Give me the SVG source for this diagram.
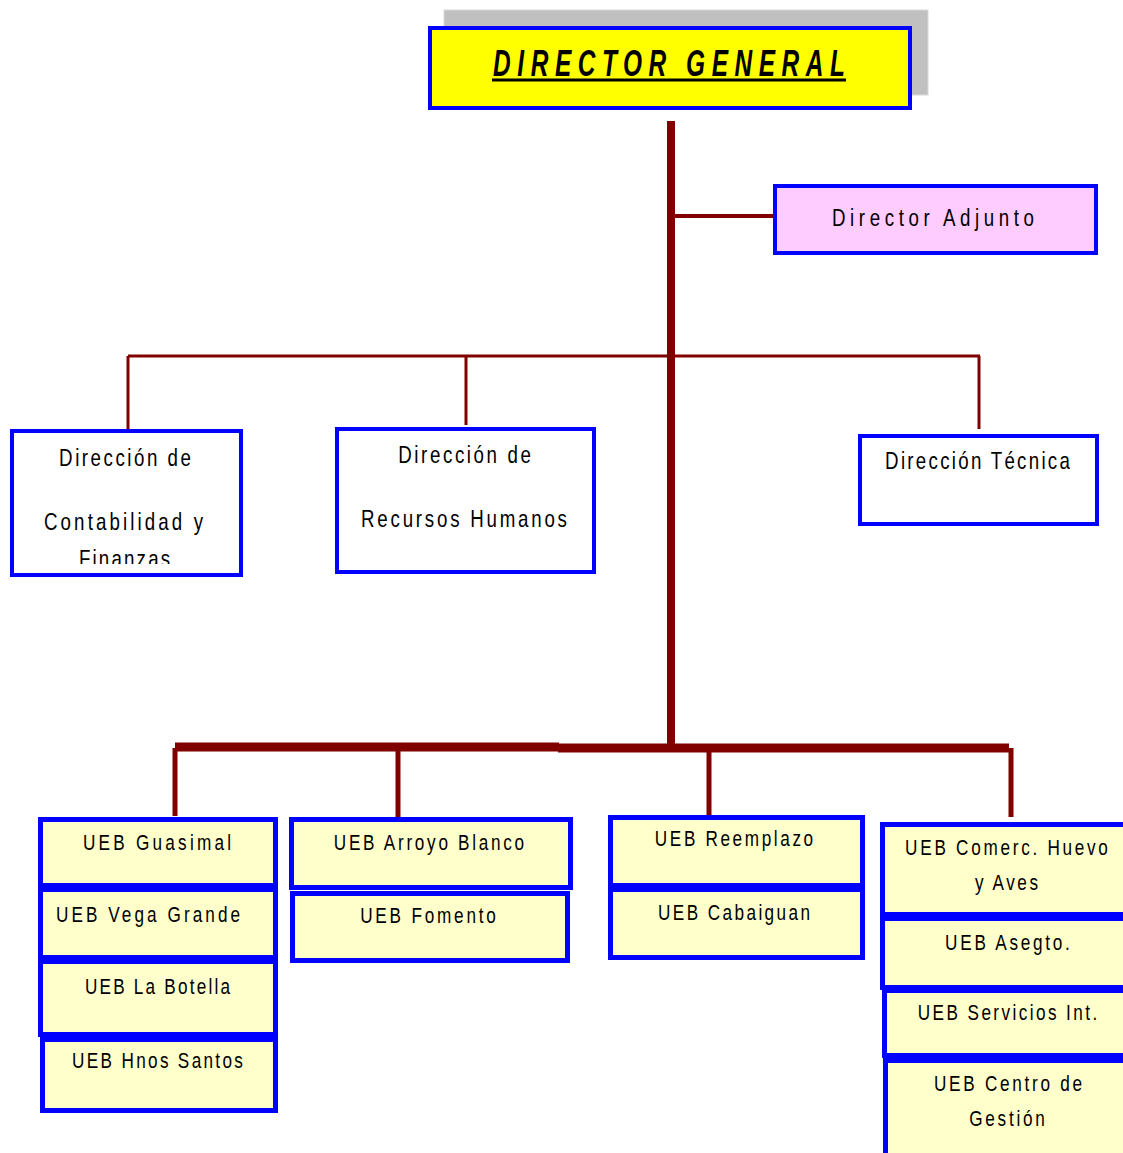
<svg xmlns="http://www.w3.org/2000/svg" width="1123" height="1153" viewBox="0 0 1123 1153">
<defs>
<style>
.box{stroke:#0000FF;stroke-width:4}
.ueb{fill:#FFFFCC;stroke:#0000FF;stroke-width:5}
.lbl{font-family:"Liberation Sans",Arial,sans-serif;font-size:24px;fill:#000;text-anchor:middle}
.u{font-family:"Liberation Sans",Arial,sans-serif;font-size:22px;fill:#000;text-anchor:middle}
.c{stroke:#800000;fill:none}
</style>
<clipPath id="clip1"><rect x="14" y="433" width="225" height="131"/></clipPath>
</defs>
<rect width="1123" height="1153" fill="#FFFFFF"/>
<g id="connectors">
<line class="c" x1="671" y1="121" x2="671" y2="745" stroke-width="8"/>
<line class="c" x1="675" y1="216" x2="773" y2="216" stroke-width="4"/>
<line class="c" x1="128" y1="356" x2="980" y2="356" stroke-width="3"/>
<line class="c" x1="128" y1="356" x2="128" y2="429" stroke-width="3"/>
<line class="c" x1="466" y1="356" x2="466" y2="425" stroke-width="3"/>
<line class="c" x1="979" y1="356" x2="979" y2="429" stroke-width="3"/>
<line class="c" x1="175" y1="747" x2="559" y2="747" stroke-width="9"/>
<line class="c" x1="558" y1="748" x2="1009" y2="748" stroke-width="9"/>
<line class="c" x1="175" y1="748" x2="175" y2="816" stroke-width="5"/>
<line class="c" x1="398" y1="748" x2="398" y2="818" stroke-width="5"/>
<line class="c" x1="709" y1="748" x2="709" y2="816" stroke-width="5"/>
<line class="c" x1="1011" y1="748" x2="1011" y2="817" stroke-width="5"/>
</g>
<g id="director-general">
<rect x="444" y="10" width="484" height="85" fill="#C0C0C0" stroke="#D8D8D8" stroke-width="1"/>
<rect class="box" x="430" y="28" width="480" height="80" fill="#FFFF00"/>
<text transform="translate(669,76) scale(0.66,1)" x="0" y="0" textLength="533" lengthAdjust="spacing" style="font-family:'Liberation Sans',Arial,sans-serif;font-size:37px;font-weight:bold;font-style:italic;text-anchor:middle;fill:#000">DIRECTOR GENERAL</text>
<line x1="492" y1="80" x2="846" y2="80" stroke="#000" stroke-width="3"/>
</g>
<g id="director-adjunto">
<rect class="box" x="775" y="186" width="321" height="67" fill="#FFCCFF"/>
<text class="lbl" transform="translate(933,226) scale(0.78,1)" x="0" y="0" font-size="25" textLength="259" lengthAdjust="spacing">Director Adjunto</text>
</g>
<g id="dir-contabilidad">
<rect class="box" x="12" y="431" width="229" height="144" fill="#FFFFFF"/>
<text class="lbl" transform="translate(125,466) scale(0.78,1)" x="0" y="0" textLength="169" lengthAdjust="spacing">Dirección de</text>
<text class="lbl" transform="translate(123.5,530) scale(0.78,1)" x="0" y="0" textLength="204" lengthAdjust="spacing">Contabilidad  y</text>
<g clip-path="url(#clip1)">
<text class="lbl" transform="translate(124.5,567) scale(0.78,1)" x="0" y="0" textLength="117" lengthAdjust="spacing">Finanzas</text>
</g>
</g>
<g id="dir-rrhh">
<rect class="box" x="337" y="429" width="257" height="143" fill="#FFFFFF"/>
<text class="lbl" transform="translate(464.5,463) scale(0.78,1)" x="0" y="0" textLength="170" lengthAdjust="spacing">Dirección de</text>
<text class="lbl" transform="translate(464,527) scale(0.78,1)" x="0" y="0" textLength="264" lengthAdjust="spacing">Recursos Humanos</text>
</g>
<g id="dir-tecnica">
<rect class="box" x="860" y="436" width="237" height="88" fill="#FFFFFF"/>
<text class="lbl" transform="translate(977.5,469) scale(0.78,1)" x="0" y="0" textLength="237" lengthAdjust="spacing">Dirección Técnica</text>
</g>
<g id="ueb-guasimal">
<rect class="ueb" x="40.5" y="819.5" width="235" height="66"/>
<text class="u" transform="translate(157,850) scale(0.78,1)" x="0" y="0" textLength="190" lengthAdjust="spacing">UEB  Guasimal</text>
</g>
<g id="ueb-vega-grande">
<rect class="ueb" x="40.5" y="889.5" width="235" height="68"/>
<text class="u" transform="translate(148,922) scale(0.78,1)" x="0" y="0" textLength="236" lengthAdjust="spacing">UEB Vega  Grande</text>
</g>
<g id="ueb-la-botella">
<rect class="ueb" x="40.5" y="961.5" width="235" height="73"/>
<text class="u" transform="translate(157.5,994) scale(0.78,1)" x="0" y="0" textLength="186" lengthAdjust="spacing">UEB  La Botella</text>
</g>
<g id="ueb-hnos-santos">
<rect class="ueb" x="42.5" y="1039.5" width="233" height="71"/>
<text class="u" transform="translate(157.5,1068) scale(0.78,1)" x="0" y="0" textLength="219" lengthAdjust="spacing">UEB Hnos Santos</text>
</g>
<g id="ueb-arroyo-blanco">
<rect class="ueb" x="291.5" y="819.5" width="279" height="68"/>
<text class="u" transform="translate(429,850) scale(0.78,1)" x="0" y="0" textLength="244" lengthAdjust="spacing">UEB Arroyo Blanco</text>
</g>
<g id="ueb-fomento">
<rect class="ueb" x="292.5" y="893.5" width="275" height="67"/>
<text class="u" transform="translate(428,923) scale(0.78,1)" x="0" y="0" textLength="174" lengthAdjust="spacing">UEB Fomento</text>
</g>
<g id="ueb-reemplazo">
<rect class="ueb" x="610.5" y="817.5" width="252" height="68"/>
<text class="u" transform="translate(734,846) scale(0.78,1)" x="0" y="0" textLength="203" lengthAdjust="spacing">UEB Reemplazo</text>
</g>
<g id="ueb-cabaiguan">
<rect class="ueb" x="610.5" y="889.5" width="252" height="68"/>
<text class="u" transform="translate(734,920) scale(0.78,1)" x="0" y="0" textLength="195" lengthAdjust="spacing">UEB Cabaiguan</text>
</g>
<g id="ueb-comerc">
<rect class="ueb" x="882.5" y="824.5" width="250" height="90"/>
<text class="u" transform="translate(1006.5,855) scale(0.78,1)" x="0" y="0" textLength="260" lengthAdjust="spacing">UEB Comerc. Huevo</text>
<text class="u" transform="translate(1006.5,890) scale(0.78,1)" x="0" y="0" textLength="81" lengthAdjust="spacing">y Aves</text>
</g>
<g id="ueb-asegto">
<rect class="ueb" x="882.5" y="918.5" width="250" height="69"/>
<text class="u" transform="translate(1007.5,950) scale(0.78,1)" x="0" y="0" textLength="160" lengthAdjust="spacing">UEB Asegto.</text>
</g>
<g id="ueb-servicios">
<rect class="ueb" x="884.5" y="990.5" width="250" height="65"/>
<text class="u" transform="translate(1007.5,1020) scale(0.78,1)" x="0" y="0" textLength="230" lengthAdjust="spacing">UEB Servicios Int.</text>
</g>
<g id="ueb-centro-gestion">
<rect class="ueb" x="885.5" y="1060.5" width="250" height="100"/>
<text class="u" transform="translate(1008,1091) scale(0.78,1)" x="0" y="0" textLength="190" lengthAdjust="spacing">UEB Centro de</text>
<text class="u" transform="translate(1007,1126) scale(0.78,1)" x="0" y="0" textLength="97" lengthAdjust="spacing">Gestión</text>
</g>
</svg>
